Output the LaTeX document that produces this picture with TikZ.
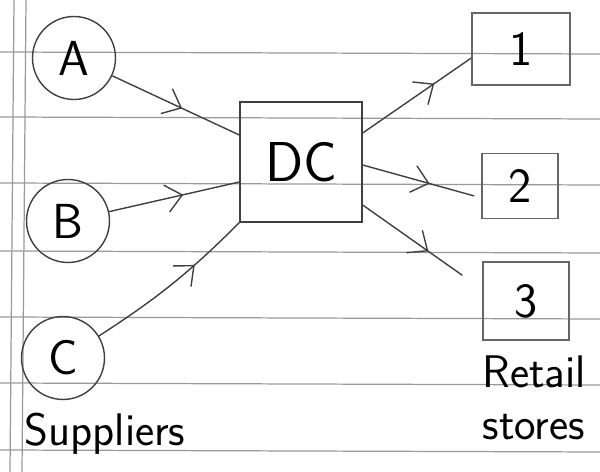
\documentclass[tikz,border=0pt]{standalone}
\usepackage{tikz}
\usetikzlibrary{arrows.meta,decorations.markings,positioning}
\tikzset{
  sup_n/.style = {circle, draw=black!75, thick, minimum size=1.66cm,
    inner sep=0pt, font=\sffamily\fontsize{28}{30}\selectfont},% supplier
  dc_n/.style = {rectangle, draw=black!75, thick, minimum width=2.44cm,
    minimum height=2.4cm, font=\sffamily\fontsize{32}{34}\selectfont},% distribution centre
  ret_n/.style = {rectangle, draw=black!60, thick, inner sep=0pt,
    font=\sffamily\fontsize{28}{30}\selectfont},% retail store
  lbl/.style = {align=left, inner sep=0pt,
    font=\sffamily\fontsize{26}{29.5}\selectfont},
  flow/.style = {draw=black!75, thick, postaction={decorate},
    decoration={markings, mark=at position #1 with
      {\arrow{Straight Barb[length=0.32cm, width=0.55cm]}}}},
  flow/.default = 0.6,
  ruling/.style = {draw=black!40, line width=0.7pt}
}

\begin{document}
\begin{tikzpicture}[x=0.02cm, y=-0.02cm]
        \useasboundingbox (0,0) rectangle (600,472);
        % lined paper
        \foreach \ly in {52,117,183,251,317,383,450}
          \draw[ruling] (0,\ly) -- (600,\ly+2);
        \draw[ruling] (14,0) -- (10,472);
        \draw[ruling] (26,0) -- (22,472);

        \node [sup_n] (A) at (74,58) {A};
        \node [sup_n] (B) at (68,221) {B};
        \node [sup_n] (C) at (63,358) {C};
        \node [dc_n] (DC) at (301,162) {DC};
        \node [ret_n, minimum width=1.96cm, minimum height=1.44cm] (S1) at (521,49) {1};
        \node [ret_n, minimum width=1.52cm, minimum height=1.3cm] (S2) at (520,186) {2};
        \node [ret_n, minimum width=1.72cm, minimum height=1.56cm] (S3) at (526,301) {3};
        \node [lbl] (sup) at (105,434) {Suppliers};
        \node [lbl, below= 0.3cm of S3.south west, anchor=north west] (ret) {Retail\\stores};

        \draw [flow=0.55] (A) -- ([yshift=0.54cm]DC.west);
        \draw [flow=0.57] (B) -- ([yshift=-0.4cm]DC.west);
        \draw [flow=0.66] (C) to[bend right=6] (DC.south west);
        \draw [flow=0.66] ([yshift=0.58cm]DC.east) -- ([yshift=-0.18cm]S1.west);
        \draw [flow=0.6] ([yshift=-0.06cm]DC.east) -- ([xshift=-0.14cm,yshift=-0.2cm]S2.west);
        \draw [flow=0.66] ([yshift=-0.86cm]DC.east) -- ([xshift=-0.4cm,yshift=-0.28cm]S3.north west);

        \end{tikzpicture}
\end{document}
